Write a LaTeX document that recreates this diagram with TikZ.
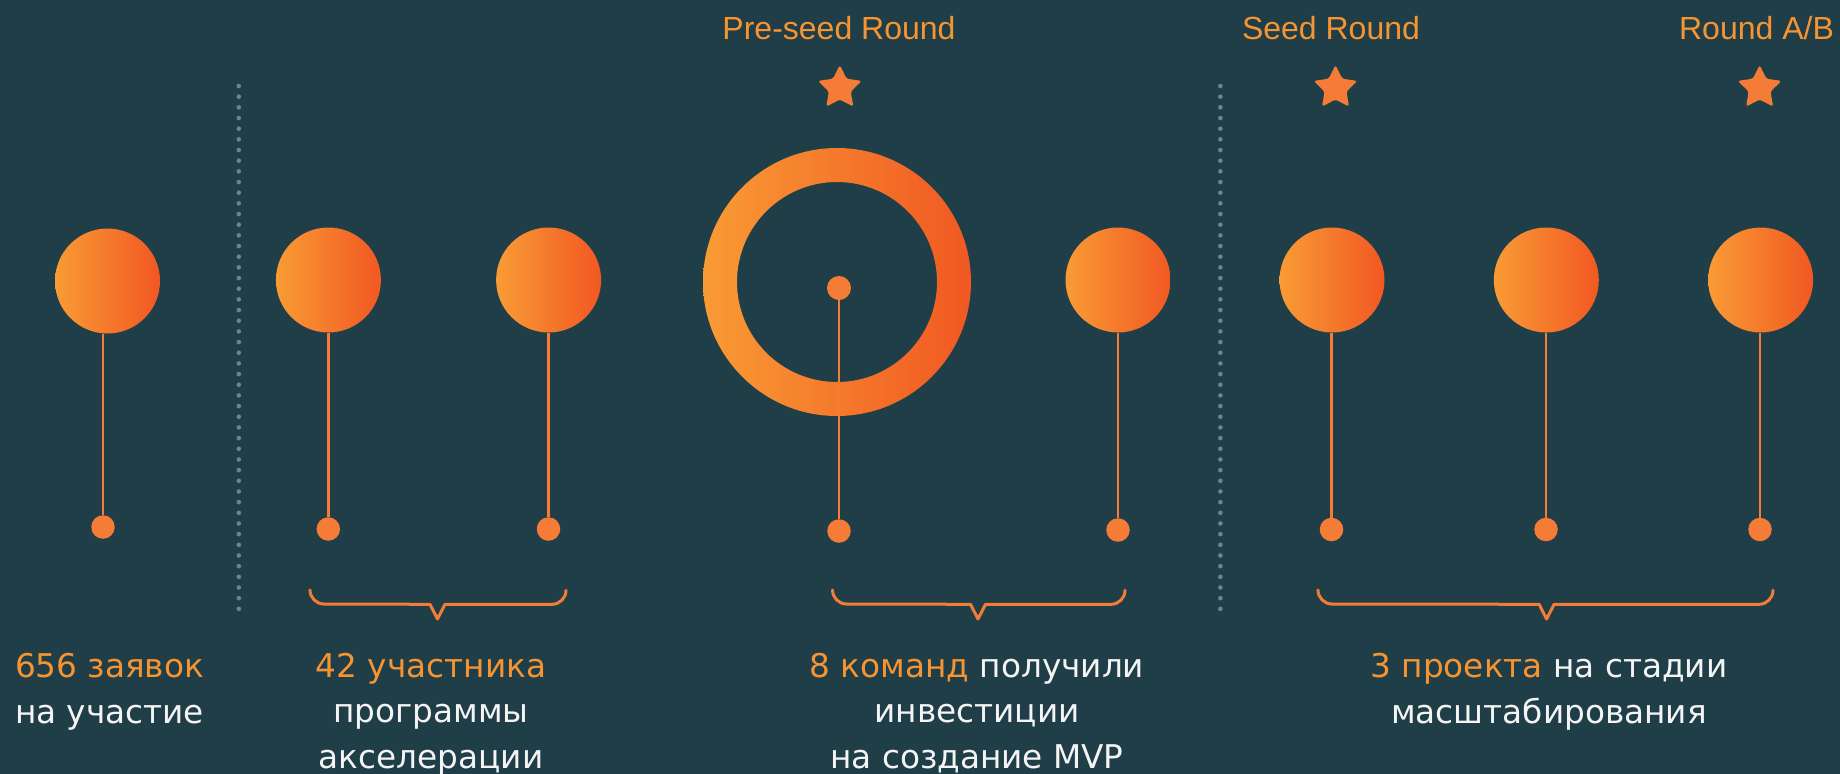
\documentclass[tikz,border=0pt]{standalone}
\usepackage{fontspec}
\setmainfont{DejaVu Sans}
\newfontfamily\titlefont{Liberation Sans}
\usetikzlibrary{shapes.geometric}
\definecolor{bg}{RGB}{31,62,71}
\definecolor{orngtext}{RGB}{247,148,50}
\definecolor{orng}{RGB}{245,124,54}
\definecolor{gl}{RGB}{249,155,53}
\definecolor{gr}{RGB}{241,88,34}
\definecolor{dotc}{RGB}{98,140,140}
\definecolor{wtext}{RGB}{244,244,244}
\begin{document}
\begin{tikzpicture}[x=1pt,y=-1pt,
  bulb/.style={circle, minimum size=105pt, inner sep=0pt, left color=gl, right color=gr, draw=none},
  tipdot/.style={circle, fill=orng, minimum size=23.5pt, inner sep=0pt},
  stem/.style={draw=orng, line width=2.4pt},
  bracepath/.style={draw=orng, line width=3pt, line cap=round, line join=round},
  starmark/.style={star, star points=5, star point ratio=2.0, fill=orng, minimum size=46pt, inner sep=0pt, rounded corners=2.5pt},
  title/.style={font=\titlefont\fontsize{32}{38}\selectfont, text=orngtext, inner sep=0pt, anchor=base},
  body/.style={font=\fontsize{32.7}{45.7}\selectfont, text=wtext, align=center, inner sep=0pt, anchor=base}
]
\fill[bg] (0,0) rectangle (1840,774);
\useasboundingbox (0,0) rectangle (1840,774);

% dotted separators
\foreach \i in {0,...,49} {
  \fill[dotc] (238.8,86+10.67*\i) circle[radius=2.3pt];
  \fill[dotc] (1220.4,86+10.67*\i) circle[radius=2.3pt];
}

% titles and stars
\node[title] (t2) at (839,39) {Pre-seed Round};
\node[title] (t3) at (1331,39) {Seed Round};
\node[title] (t4) at (1756.5,39) {Round A/B};
\node[starmark] (s2) at (839.8,88) {};
\node[starmark] (s3) at (1335.5,88) {};
\node[starmark] (s4) at (1759.6,88) {};

% bottom dots
\node[tipdot] (d1) at (103,527) {};
\node[tipdot] (d2) at (328.3,529) {};
\node[tipdot] (d3) at (548.5,529) {};
\node[tipdot] (d4) at (839,531) {};
\node[tipdot] (d5) at (1118,530) {};
\node[tipdot] (d6) at (1331.5,529.5) {};
\node[tipdot] (d7) at (1546,529.5) {};
\node[tipdot] (d8) at (1760,529.5) {};

% circles
\node[bulb] (c1) at (107.5,281) {};
\node[bulb] (c2) at (328.4,280) {};
\node[bulb] (c3) at (548.6,280) {};
\node[bulb] (c5) at (1118,280) {};
\node[bulb] (c6) at (1332,280) {};
\node[bulb] (c7) at (1546.3,280) {};
\node[bulb] (c8) at (1760.6,280) {};

% ring
\coordinate (ring) at (837,282);
\shade[left color=gl, right color=gr, even odd rule] (ring) circle[radius=134pt] (ring) circle[radius=100pt];
\node[tipdot, minimum size=24pt] (hub) at (839,288) {};

% stems
\draw[stem] (d1 |- c1.south) -- (d1);
\draw[stem] (d2 |- c2.south) -- (d2);
\draw[stem] (d3 |- c3.south) -- (d3);
\draw[stem] (hub) -- (d4);
\draw[stem] (d5 |- c5.south) -- (d5);
\draw[stem] (d6 |- c6.south) -- (d6);
\draw[stem] (d7 |- c7.south) -- (d7);
\draw[stem] (d8 |- c8.south) -- (d8);

% braces
\draw[bracepath] (310,590) arc[start angle=180, end angle=270, radius=14pt]
  -- (430,604.3) -- (437.5,619) -- (445,604.3) -- (552,604.3)
  arc[start angle=270, end angle=360, radius=14pt];
\draw[bracepath] (832.5,590) arc[start angle=180, end angle=270, radius=14pt]
  -- (970.5,604.3) -- (978,619) -- (985.5,604.3) -- (1111,604.3)
  arc[start angle=270, end angle=360, radius=14pt];
\draw[bracepath] (1318,590) arc[start angle=180, end angle=270, radius=14pt]
  -- (1539.1,604.3) -- (1546.6,619) -- (1554.1,604.3) -- (1759,604.3)
  arc[start angle=270, end angle=360, radius=14pt];

% texts (anchored at the baseline of the last line)
\node[body] (l1) at (109.5,723) {\textcolor{orngtext}{656 заявок}\\на участие};
\node[body] (l2) at (431,768.5) {\textcolor{orngtext}{42 участника}\\программы\\акселерации};
\node[body] (l3) at (977,768.5) {\textcolor{orngtext}{8 команд} получили\\инвестиции\\на создание MVP};
\node[body] (l4) at (1549,723) {\textcolor{orngtext}{3 проекта} на стадии\\масштабирования};
\end{tikzpicture}
\end{document}
